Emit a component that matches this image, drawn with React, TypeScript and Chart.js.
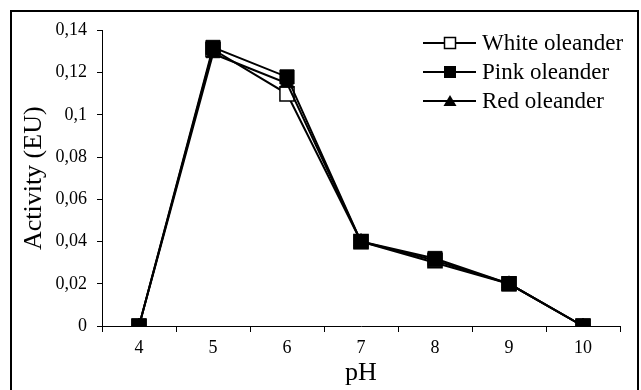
import React, { useEffect, useRef } from "react";
import { Chart, registerables } from "chart.js";

Chart.register(...registerables);

const categories = ["4", "5", "6", "7", "8", "9", "10"];
const whiteOleander = [0, 0.131, 0.11, 0.04, 0.031, 0.02, 0];
const pinkOleander = [0, 0.132, 0.118, 0.04, 0.032, 0.02, 0];
const redOleander = [0, 0.129, 0.115, 0.04, 0.03, 0.02, 0];
const yTickLabels = ["0", "0,02", "0,04", "0,06", "0,08", "0,1", "0,12", "0,14"];
const seriesNames = ["White oleander", "Pink oleander", "Red oleander"];
const xTitle = "pH";
const yTitle = "Activity (EU)";

const FONT = "'Liberation Serif', 'Times New Roman', serif";

const framePlugin = {
  id: "frameAndLegend",
  beforeDraw(chart: any) {
    const ctx = chart.ctx;
    ctx.save();
    ctx.fillStyle = "#fff";
    ctx.fillRect(0, 0, chart.width, chart.height);
    ctx.restore();
  },
  afterDraw(chart: any) {
    const ctx = chart.ctx;
    ctx.save();
    ctx.strokeStyle = "#000";
    ctx.lineWidth = 2;
    ctx.strokeRect(11, 11, 627, 420);

    const styles = ["openSquare", "square", "triangle"];
    chart.data.datasets.forEach((ds: any, i: number) => {
      const y = 43 + 29 * i;
      ctx.strokeStyle = "#000";
      ctx.lineWidth = 2;
      ctx.beginPath();
      ctx.moveTo(423, y);
      ctx.lineTo(476, y);
      ctx.stroke();
      const cx = 450;
      const st = styles[i];
      if (st === "openSquare") {
        ctx.fillStyle = "#fff";
        ctx.fillRect(cx - 5.5, y - 5.5, 11, 11);
        ctx.lineWidth = 1.5;
        ctx.strokeRect(cx - 5.5, y - 5.5, 11, 11);
      } else if (st === "square") {
        ctx.fillStyle = "#000";
        ctx.fillRect(cx - 6, y - 6, 12, 12);
      } else {
        ctx.fillStyle = "#000";
        ctx.beginPath();
        ctx.moveTo(cx, y - 6);
        ctx.lineTo(cx + 6.5, y + 5);
        ctx.lineTo(cx - 6.5, y + 5);
        ctx.closePath();
        ctx.fill();
      }
      ctx.fillStyle = "#000";
      ctx.font = `23px ${FONT}`;
      ctx.textBaseline = "middle";
      ctx.textAlign = "left";
      ctx.fillText(ds.label, 482, y + 1);
    });
    ctx.restore();
  },
};

export default function App() {
  const ref = useRef<HTMLCanvasElement>(null);

  useEffect(() => {
    if (!ref.current) return;
    const chart = new Chart(ref.current, {
      type: "line",
      data: {
        labels: categories,
        datasets: [
          {
            label: seriesNames[0],
            data: whiteOleander,
            borderColor: "#000",
            borderWidth: 2,
            pointStyle: "rect",
            pointRadius: 10,
            pointBackgroundColor: "#fff",
            pointBorderColor: "#000",
            pointBorderWidth: 1.5,
            tension: 0,
            order: 2,
          },
          {
            label: seriesNames[1],
            data: pinkOleander,
            borderColor: "#000",
            borderWidth: 2,
            pointStyle: "rect",
            pointRadius: 10,
            pointBackgroundColor: "#000",
            pointBorderColor: "#000",
            pointBorderWidth: 1,
            tension: 0,
            order: 0,
          },
          {
            label: seriesNames[2],
            data: redOleander,
            borderColor: "#000",
            borderWidth: 2,
            pointStyle: "triangle",
            pointRadius: 8,
            pointBackgroundColor: "#000",
            pointBorderColor: "#000",
            pointBorderWidth: 1,
            tension: 0,
            order: 1,
          },
        ],
      },
      options: {
        responsive: false,
        animation: false,
        devicePixelRatio: 1,
        layout: { padding: { left: 0, right: 21, top: 30.5, bottom: 0 } },
        plugins: {
          legend: { display: false },
          tooltip: { enabled: false },
        },
        scales: {
          x: {
            type: "category",
            offset: true,
            grid: {
              offset: true,
              drawOnChartArea: false,
              tickLength: 6,
              color: "#000",
              lineWidth: 1,
            },
            border: { color: "#000", width: 1 },
            ticks: {
              font: { family: FONT, size: 18 },
              color: "#000",
              padding: 5,
              autoSkip: false,
              maxRotation: 0,
            },
            title: {
              display: true,
              text: xTitle,
              font: { family: FONT, size: 26 },
              color: "#000",
              padding: { top: 0, bottom: 1.5 },
            },
            afterFit(s: any) {
              s.height = 64;
            },
          },
          y: {
            min: 0,
            max: 0.14,
            ticks: {
              stepSize: 0.02,
              callback: (_v: any, i: number) => yTickLabels[i],
              font: { family: FONT, size: 18 },
              color: "#000",
              padding: 10,
            },
            grid: {
              drawOnChartArea: false,
              tickLength: 5,
              color: "#000",
              lineWidth: 1,
            },
            border: { color: "#000", width: 1 },
            title: {
              display: true,
              text: yTitle,
              font: { family: FONT, size: 26 },
              color: "#000",
              padding: { top: 19, bottom: 0 },
            },
            afterFit(s: any) {
              s.width = 102;
            },
          },
        },
      },
      plugins: [framePlugin],
    });
    return () => chart.destroy();
  }, []);

  return (
    <div style={{ position: "fixed", left: 0, top: 0, width: 641, height: 390, background: "#fff" }}>
      <canvas ref={ref} width={641} height={390} style={{ width: 641, height: 390, display: "block" }} />
    </div>
  );
}
